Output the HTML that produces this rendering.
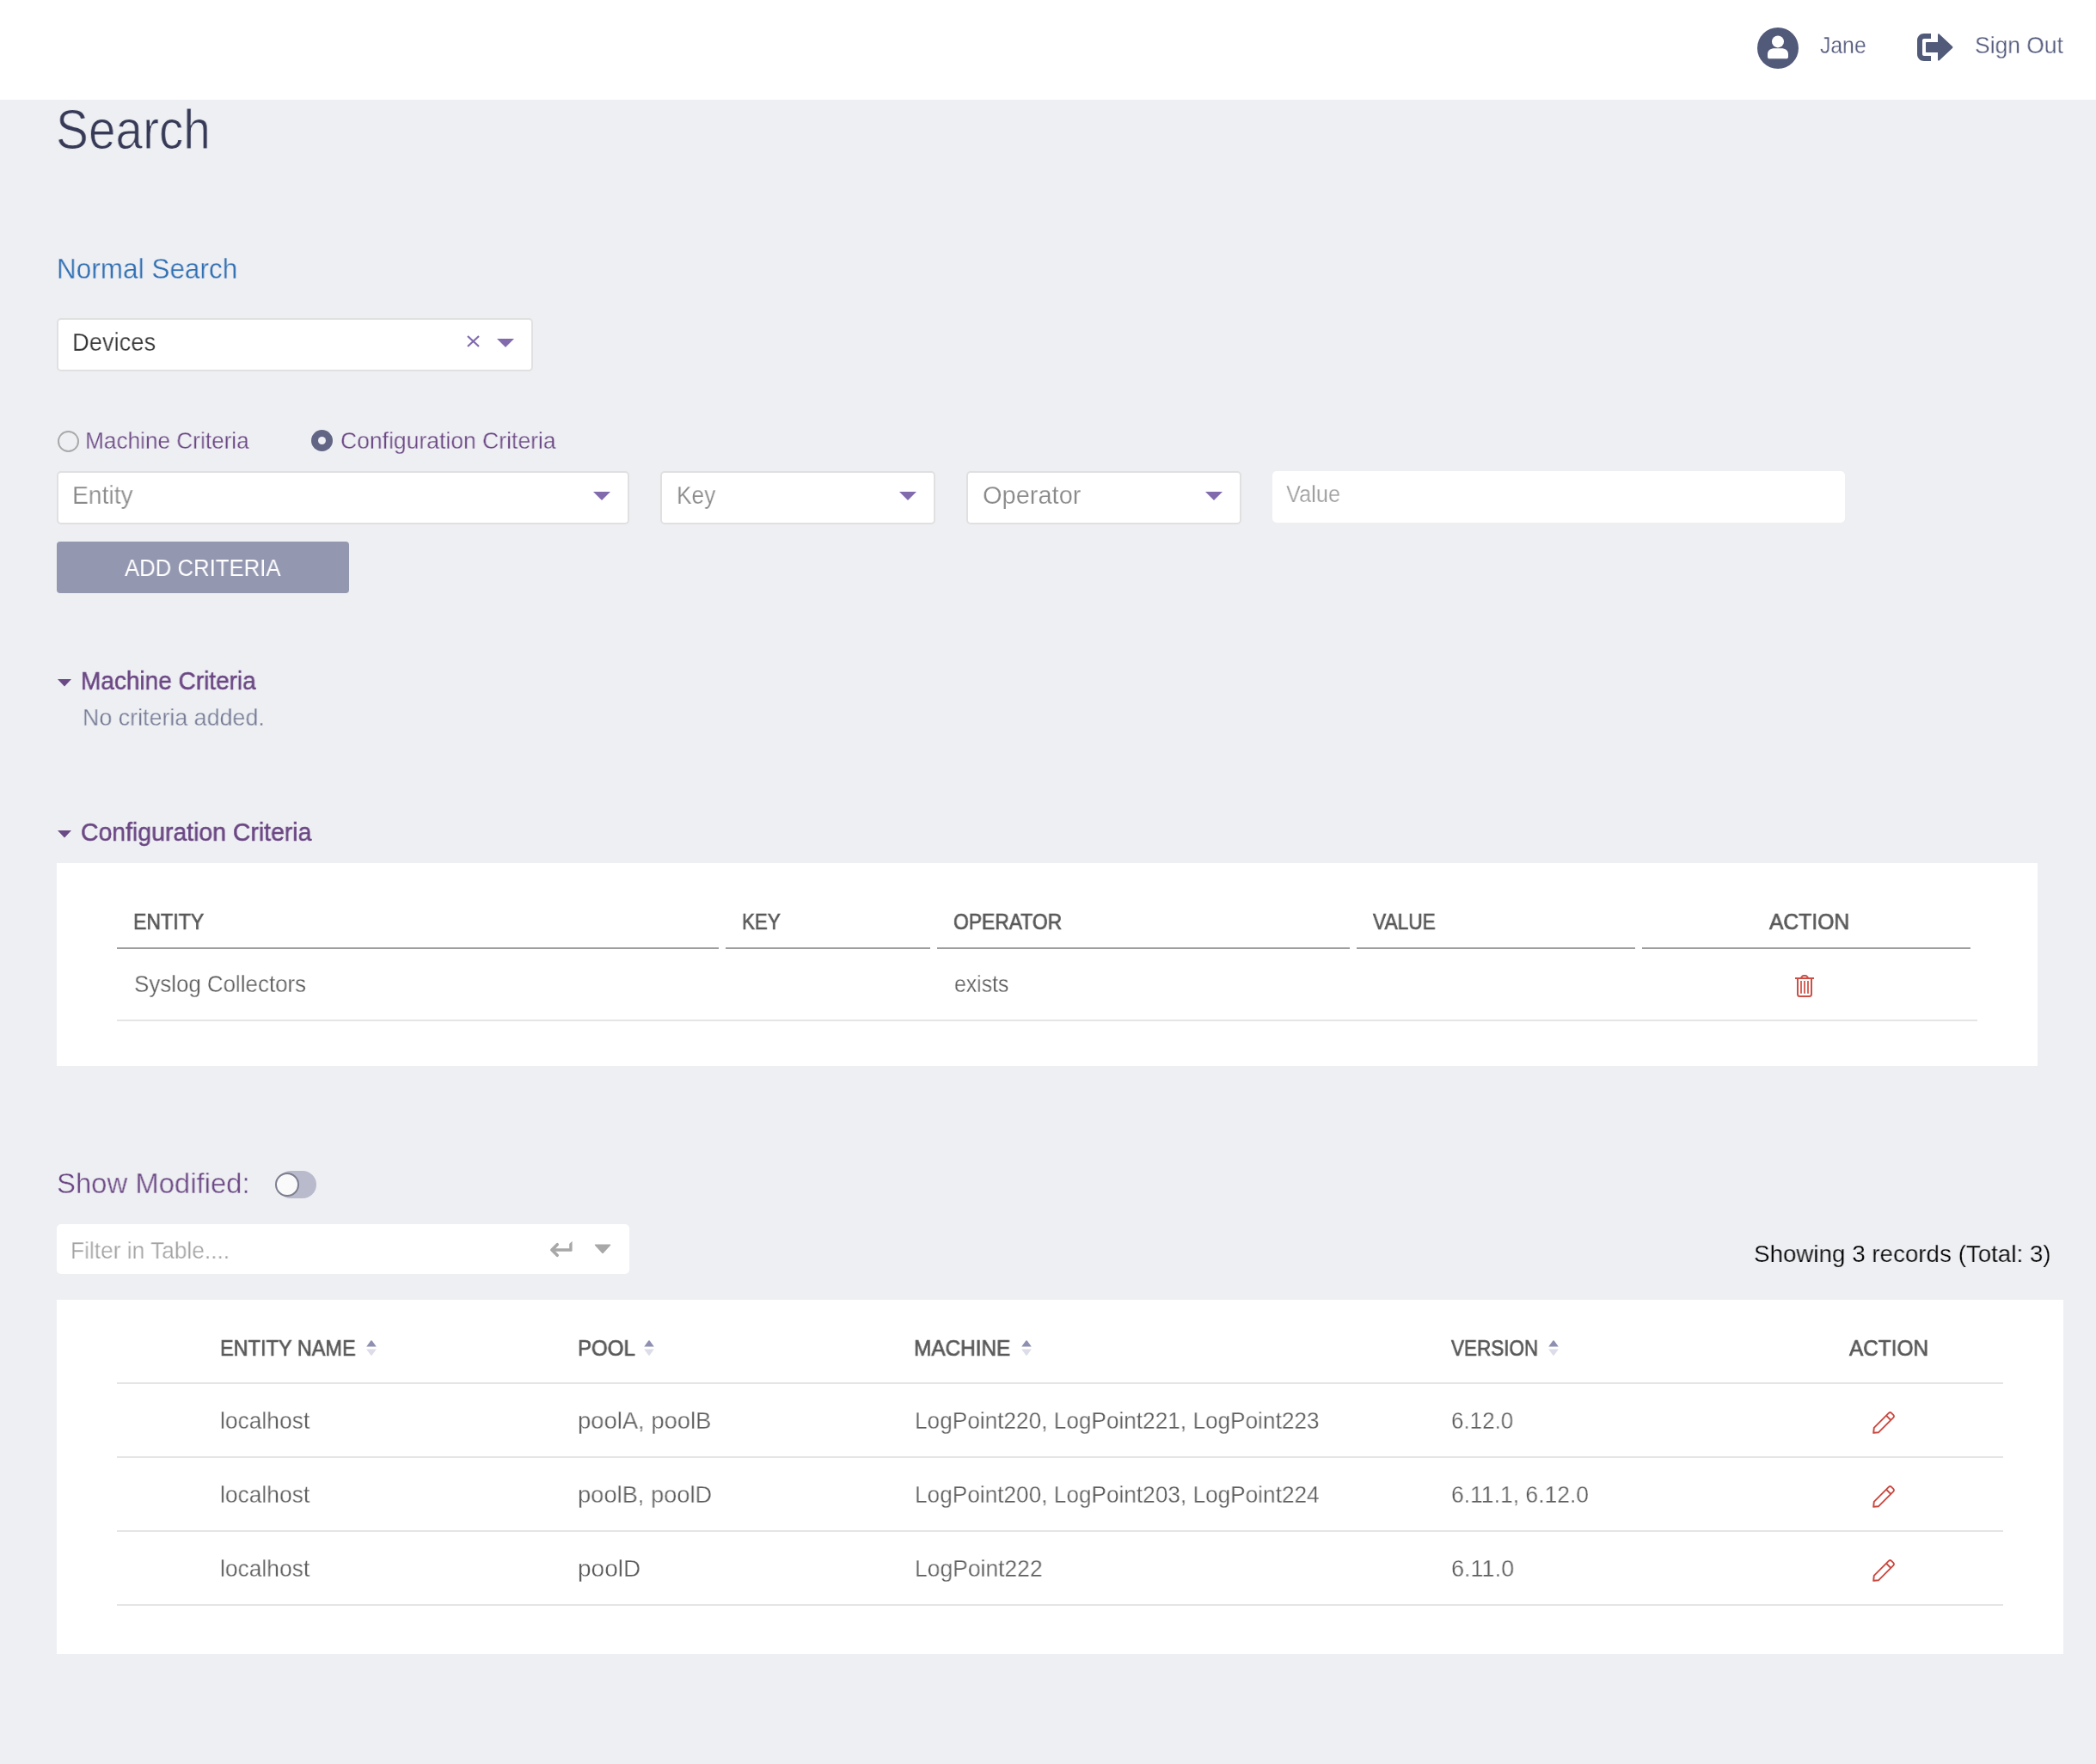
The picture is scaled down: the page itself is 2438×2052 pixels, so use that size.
<!DOCTYPE html>
<html><head><meta charset="utf-8"><title>Search</title>
<style>

html,body{margin:0;padding:0;}
body{width:2438px;height:2052px;background:#eeeff3;position:relative;overflow:hidden;font-family:"Liberation Sans",sans-serif;}
.a{position:absolute;}
.t{position:absolute;white-space:nowrap;line-height:1;transform-origin:0 0;will-change:transform;}
.hdr{left:0;top:0;width:2438px;height:116px;background:#fff;}
.box{position:absolute;background:#fff;box-sizing:border-box;border:2px solid #e0e0e0;border-radius:5px;}
.tri{position:absolute;width:0;height:0;border-left:10px solid transparent;border-right:10px solid transparent;border-top:10px solid #816bad;}
.panel{position:absolute;background:#fff;}
.hl{position:absolute;height:2px;background:#9e9e9e;}
.rl{position:absolute;height:2px;background:#e5e5e5;}
.th{font-size:26px;color:#585858;}
.td{font-size:28px;color:#5c5c5c;}
</style></head>
<body>

<div class="a hdr"></div>
<!-- header right -->
<svg class="a" style="left:2044px;top:32px" width="48" height="48" viewBox="0 0 48 48">
  <circle cx="24" cy="24" r="24" fill="#525a7a"/>
  <circle cx="24" cy="16.4" r="7" fill="#fff"/>
  <path d="M12 34 L12 31 C12 26.8 15.2 24.2 20.2 24.2 L27.8 24.2 C32.8 24.2 36 26.8 36 31 L36 34 C36 35.4 35.1 36.3 33.8 36.3 L14.2 36.3 C12.9 36.3 12 35.4 12 34 Z" fill="#fff"/>
</svg>
<svg class="a" style="left:2230px;top:39px" width="42" height="32" viewBox="0 0 42 32">
  <path d="M16 0 L8 0 C3.5 0 0 3.5 0 8 L0 24 C0 28.5 3.5 32 8 32 L16 32 L16 26 L8 26 C6.9 26 6 25.1 6 24 L6 8 C6 6.9 6.9 6 8 6 L16 6 Z" fill="#525a7a"/>
  <path d="M11 10 L24 10 L24 1.5 C24 0.5 25 0 25.8 0.7 L41 15 C41.6 15.6 41.6 16.4 41 17 L25.8 31.3 C25 32 24 31.5 24 30.5 L24 22 L11 22 C10.4 22 10 21.6 10 21 L10 11 C10 10.4 10.4 10 11 10 Z" fill="#525a7a"/>
</svg>

<!-- title -->

<!-- devices select -->
<div class="box" style="left:66px;top:370px;width:554px;height:62px;"></div>
<div class="tri" style="left:578px;top:394px;"></div>
<svg class="a" style="left:543px;top:390px" width="15" height="14" viewBox="0 0 15 14"><path d="M1 1 L14 13 M14 1 L1 13" stroke="#7f69ae" stroke-width="2.2"/></svg>

<!-- radios -->
<div class="a" style="left:67px;top:501px;width:25px;height:25px;box-sizing:border-box;border:2px solid #a9a9a9;border-radius:50%;"></div>
<div class="a" style="left:362px;top:500px;width:25px;height:25px;border-radius:50%;background:#626684;"></div>
<div class="a" style="left:370px;top:508px;width:9px;height:9px;border-radius:50%;background:#eeeff3;"></div>

<!-- criteria inputs -->
<div class="box" style="left:66px;top:548px;width:666px;height:62px;"></div>
<div class="tri" style="left:690px;top:572px;"></div>
<div class="box" style="left:768px;top:548px;width:320px;height:62px;"></div>
<div class="tri" style="left:1046px;top:572px;"></div>
<div class="box" style="left:1124px;top:548px;width:320px;height:62px;"></div>
<div class="tri" style="left:1402px;top:572px;"></div>
<div class="box" style="left:1480px;top:548px;width:666px;height:60px;border-color:#fff;"></div>

<div class="a" style="left:66px;top:630px;width:340px;height:60px;background:#9397b0;border-radius:4px;"></div>

<!-- machine criteria section -->
<svg class="a" style="left:67px;top:790px" width="16" height="9" viewBox="0 0 16 9"><path d="M0 0 L16 0 L8 8.5 Z" fill="#6a4a85"/></svg>

<!-- configuration criteria section -->
<svg class="a" style="left:67px;top:966px" width="16" height="9" viewBox="0 0 16 9"><path d="M0 0 L16 0 L8 8.5 Z" fill="#6a4a85"/></svg>

<div class="panel" style="left:66px;top:1004px;width:2304px;height:236px;"></div>
<div class="hl" style="left:136px;top:1102px;width:700px;"></div>
<div class="hl" style="left:844px;top:1102px;width:238px;"></div>
<div class="hl" style="left:1090px;top:1102px;width:480px;"></div>
<div class="hl" style="left:1578px;top:1102px;width:324px;"></div>
<div class="hl" style="left:1910px;top:1102px;width:382px;"></div>
<svg class="a" style="left:2087px;top:1133px" width="24" height="28" viewBox="0 0 24 28">
  <g fill="none" stroke="#cc4f46" stroke-width="2">
    <path d="M1 5 L23 5"/>
    <path d="M7.5 5 L9 3 C9.4 2.3 10 2 10.8 2 L13.2 2 C14 2 14.6 2.3 15 3 L16.5 5"/>
    <path d="M4 5 L4 23.5 C4 25 5 26 6.5 26 L17.5 26 C19 26 20 25 20 23.5 L20 5"/>
    <path d="M8 8 L8 22.8 M12 8 L12 22.8 M16 8 L16 22.8" stroke="#d4675e"/>
  </g>
</svg>
<div class="rl" style="left:136px;top:1186px;width:2164px;"></div>

<!-- show modified -->
<div class="a" style="left:322px;top:1362px;width:46px;height:32px;border-radius:16px;background:#b9bacc;"></div>
<div class="a" style="left:320px;top:1364px;width:28px;height:28px;box-sizing:border-box;border-radius:50%;background:#fafafa;border:2px solid #7c7f8f;"></div>

<!-- filter -->
<div class="a" style="left:66px;top:1424px;width:666px;height:58px;background:#fff;border-radius:5px;"></div>
<svg class="a" style="left:638px;top:1442px" width="30" height="22" viewBox="0 0 30 22">
  <path d="M24.2 5 L27.6 1.8 L27.6 12.8 Q27.6 13.8 26.6 13.8 L6 13.8 L6 10.2 L24.2 10.2 Z" fill="#a8a8a8"/>
  <path d="M10.2 5.7 L3.9 12 L10.2 18.3" fill="none" stroke="#a8a8a8" stroke-width="3.6" stroke-linecap="round" stroke-linejoin="round"/>
</svg>

<svg class="a" style="left:690px;top:1446px" width="22" height="13" viewBox="0 0 22 13"><path d="M2.5 1.5 L19.5 1.5 Q21 1.5 20 2.7 L12 11.5 Q11 12.5 10 11.5 L2 2.7 Q1 1.5 2.5 1.5 Z" fill="#a8a8a8"/></svg>
<!-- devices table -->
<div class="panel" style="left:66px;top:1512px;width:2334px;height:412px;"></div>
<svg class="a" style="left:424.5px;top:1558px" width="14" height="20" viewBox="0 0 14 20"><path d="M1.2 8.4 L6.3 1.6 Q7 0.8 7.7 1.6 L12.8 8.4 Z" fill="#8d90b0"/><path d="M1.2 11.4 L12.8 11.4 L7.7 18.4 Q7 19.2 6.3 18.4 Z" fill="#dcdde8"/></svg>
<svg class="a" style="left:747.5px;top:1558px" width="14" height="20" viewBox="0 0 14 20"><path d="M1.2 8.4 L6.3 1.6 Q7 0.8 7.7 1.6 L12.8 8.4 Z" fill="#8d90b0"/><path d="M1.2 11.4 L12.8 11.4 L7.7 18.4 Q7 19.2 6.3 18.4 Z" fill="#dcdde8"/></svg>
<svg class="a" style="left:1186.5px;top:1558px" width="14" height="20" viewBox="0 0 14 20"><path d="M1.2 8.4 L6.3 1.6 Q7 0.8 7.7 1.6 L12.8 8.4 Z" fill="#8d90b0"/><path d="M1.2 11.4 L12.8 11.4 L7.7 18.4 Q7 19.2 6.3 18.4 Z" fill="#dcdde8"/></svg>
<svg class="a" style="left:1799.5px;top:1558px" width="14" height="20" viewBox="0 0 14 20"><path d="M1.2 8.4 L6.3 1.6 Q7 0.8 7.7 1.6 L12.8 8.4 Z" fill="#8d90b0"/><path d="M1.2 11.4 L12.8 11.4 L7.7 18.4 Q7 19.2 6.3 18.4 Z" fill="#dcdde8"/></svg>
<div class="rl" style="left:136px;top:1608px;width:2194px;"></div>
<svg class="a" style="left:2177px;top:1641px" width="28" height="28" viewBox="0 0 28 28"><g fill="none" stroke="#c94840" stroke-width="1.9" stroke-linejoin="round"><path d="M2.2 25.8 L2.8 19.8 L19.8 2.8 C20.8 1.8 22.2 1.8 23.2 2.8 L25.2 4.8 C26.2 5.8 26.2 7.2 25.2 8.2 L8.2 25.2 Z"/><path d="M17 5.6 L22.4 11"/></g></svg>
<div class="rl" style="left:136px;top:1694px;width:2194px;"></div>
<svg class="a" style="left:2177px;top:1727px" width="28" height="28" viewBox="0 0 28 28"><g fill="none" stroke="#c94840" stroke-width="1.9" stroke-linejoin="round"><path d="M2.2 25.8 L2.8 19.8 L19.8 2.8 C20.8 1.8 22.2 1.8 23.2 2.8 L25.2 4.8 C26.2 5.8 26.2 7.2 25.2 8.2 L8.2 25.2 Z"/><path d="M17 5.6 L22.4 11"/></g></svg>
<div class="rl" style="left:136px;top:1780px;width:2194px;"></div>
<svg class="a" style="left:2177px;top:1813px" width="28" height="28" viewBox="0 0 28 28"><g fill="none" stroke="#c94840" stroke-width="1.9" stroke-linejoin="round"><path d="M2.2 25.8 L2.8 19.8 L19.8 2.8 C20.8 1.8 22.2 1.8 23.2 2.8 L25.2 4.8 C26.2 5.8 26.2 7.2 25.2 8.2 L8.2 25.2 Z"/><path d="M17 5.6 L22.4 11"/></g></svg>
<div class="rl" style="left:136px;top:1866px;width:2194px;"></div>

<div class="t" id="t0" style="left:2117.00px;top:39.30px;font-size:28px;color:#50577a;-webkit-text-stroke:0.3px #ffffff;transform:scaleX(0.8833)">Jane</div>
<div class="t" id="t1" style="left:2297.06px;top:39.30px;font-size:28px;color:#50577a;-webkit-text-stroke:0.3px #ffffff;transform:scaleX(0.9444)">Sign Out</div>
<div class="t" id="t2" style="left:65.45px;top:118.70px;font-size:64px;color:#363a56;-webkit-text-stroke:1.0px #eeeff3;transform:scaleX(0.8866)">Search</div>
<div class="t" id="t3" style="left:66.02px;top:295.00px;font-size:34px;color:#306fb3;-webkit-text-stroke:0.3px #eeeff3;transform:scaleX(0.9275)">Normal Search</div>
<div class="t" id="t4" style="left:84.42px;top:383.60px;font-size:29px;color:#333333;-webkit-text-stroke:0.25px #ffffff;transform:scaleX(0.9420)">Devices</div>
<div class="t" id="t5" style="left:99.13px;top:499.00px;font-size:28px;color:#6a4683;-webkit-text-stroke:0.3px #eeeff3;transform:scaleX(0.9356)">Machine Criteria</div>
<div class="t" id="t6" style="left:396.05px;top:499.00px;font-size:28px;color:#6a4683;-webkit-text-stroke:0.3px #eeeff3;transform:scaleX(0.9470)">Configuration Criteria</div>
<div class="t" id="t7" style="left:83.85px;top:561.60px;font-size:29px;color:#8a8a8a;-webkit-text-stroke:0.25px #ffffff;transform:scaleX(0.9743)">Entity</div>
<div class="t" id="t8" style="left:786.79px;top:561.60px;font-size:29px;color:#8a8a8a;-webkit-text-stroke:0.25px #ffffff;transform:scaleX(0.9062)">Key</div>
<div class="t" id="t9" style="left:1142.80px;top:561.60px;font-size:29px;color:#8a8a8a;-webkit-text-stroke:0.25px #ffffff;transform:scaleX(0.9991)">Operator</div>
<div class="t" id="t10" style="left:1496.00px;top:562.00px;font-size:27px;color:#9c9c9c;-webkit-text-stroke:0.25px #ffffff;transform:scaleX(0.9409)">Value</div>
<div class="t" id="t11" style="left:145.00px;top:648.00px;font-size:27px;color:#ffffff;transform:scaleX(0.9529)">ADD CRITERIA</div>
<div class="t" id="t12" style="left:93.73px;top:776.50px;font-size:30px;color:#6a4683;-webkit-text-stroke:0.5px #6a4683;transform:scaleX(0.9327)">Machine Criteria</div>
<div class="t" id="t13" style="left:95.78px;top:821.00px;font-size:28px;color:#747a94;-webkit-text-stroke:0.3px #eeeff3;transform:scaleX(0.9581)">No criteria added.</div>
<div class="t" id="t14" style="left:93.95px;top:952.60px;font-size:30px;color:#6a4683;-webkit-text-stroke:0.5px #6a4683;transform:scaleX(0.9470)">Configuration Criteria</div>
<div class="t" id="t15" style="left:155.42px;top:1058.50px;font-size:26px;color:#5a5a5a;-webkit-text-stroke:0.7px #5a5a5a;transform:scaleX(0.8900)">ENTITY</div>
<div class="t" id="t16" style="left:863.28px;top:1058.50px;font-size:26px;color:#5a5a5a;-webkit-text-stroke:0.7px #5a5a5a;transform:scaleX(0.8600)">KEY</div>
<div class="t" id="t17" style="left:1109.12px;top:1058.50px;font-size:26px;color:#5a5a5a;-webkit-text-stroke:0.7px #5a5a5a;transform:scaleX(0.8789)">OPERATOR</div>
<div class="t" id="t18" style="left:1596.60px;top:1058.50px;font-size:26px;color:#5a5a5a;-webkit-text-stroke:0.7px #5a5a5a;transform:scaleX(0.8723)">VALUE</div>
<div class="t" id="t19" style="left:2058.00px;top:1058.50px;font-size:26px;color:#5a5a5a;-webkit-text-stroke:0.7px #5a5a5a;transform:scaleX(0.9485)">ACTION</div>
<div class="t" id="t20" style="left:156.28px;top:1131.00px;font-size:28px;color:#5c5c5c;-webkit-text-stroke:0.3px #ffffff;transform:scaleX(0.9248)">Syslog Collectors</div>
<div class="t" id="t21" style="left:1110.11px;top:1131.00px;font-size:28px;color:#5c5c5c;-webkit-text-stroke:0.3px #ffffff;transform:scaleX(0.8857)">exists</div>
<div class="t" id="t22" style="left:66.01px;top:1360.00px;font-size:33px;color:#6a4683;-webkit-text-stroke:0.4px #eeeff3;transform:scaleX(0.9955)">Show Modified:</div>
<div class="t" id="t23" style="left:82.05px;top:1441.80px;font-size:27px;color:#a3a3a3;-webkit-text-stroke:0.25px #ffffff;transform:scaleX(0.9742)">Filter in Table....</div>
<div class="t" id="t24" style="left:2040.01px;top:1445.30px;font-size:28px;color:#000000;-webkit-text-stroke:0.25px #eeeff3;transform:scaleX(0.9913)">Showing 3 records (Total: 3)</div>
<div class="t" id="t25" style="left:255.79px;top:1554.50px;font-size:26px;color:#5a5a5a;-webkit-text-stroke:0.7px #5a5a5a;transform:scaleX(0.9047)">ENTITY NAME</div>
<div class="t" id="t26" style="left:671.55px;top:1554.50px;font-size:26px;color:#5a5a5a;-webkit-text-stroke:0.7px #5a5a5a;transform:scaleX(0.9257)">POOL</div>
<div class="t" id="t27" style="left:1062.93px;top:1554.50px;font-size:26px;color:#5a5a5a;-webkit-text-stroke:0.7px #5a5a5a;transform:scaleX(0.9368)">MACHINE</div>
<div class="t" id="t28" style="left:1687.70px;top:1554.50px;font-size:26px;color:#5a5a5a;-webkit-text-stroke:0.7px #5a5a5a;transform:scaleX(0.8647)">VERSION</div>
<div class="t" id="t29" style="left:2151.30px;top:1554.50px;font-size:26px;color:#5a5a5a;-webkit-text-stroke:0.7px #5a5a5a;transform:scaleX(0.9371)">ACTION</div>
<div class="t" id="t30" style="left:255.61px;top:1639.00px;font-size:28px;color:#5c5c5c;-webkit-text-stroke:0.3px #ffffff;transform:scaleX(0.9426)">localhost</div>
<div class="t" id="t31" style="left:671.54px;top:1639.00px;font-size:28px;color:#5c5c5c;-webkit-text-stroke:0.3px #ffffff;transform:scaleX(0.9787)">poolA, poolB</div>
<div class="t" id="t32" style="left:1064.13px;top:1639.00px;font-size:28px;color:#5c5c5c;-webkit-text-stroke:0.3px #ffffff;transform:scaleX(0.9356)">LogPoint220, LogPoint221, LogPoint223</div>
<div class="t" id="t33" style="left:1688.07px;top:1639.00px;font-size:28px;color:#5c5c5c;-webkit-text-stroke:0.3px #ffffff;transform:scaleX(0.9276)">6.12.0</div>
<div class="t" id="t34" style="left:255.61px;top:1725.00px;font-size:28px;color:#5c5c5c;-webkit-text-stroke:0.3px #ffffff;transform:scaleX(0.9426)">localhost</div>
<div class="t" id="t35" style="left:671.55px;top:1725.00px;font-size:28px;color:#5c5c5c;-webkit-text-stroke:0.3px #ffffff;transform:scaleX(0.9745)">poolB, poolD</div>
<div class="t" id="t36" style="left:1064.13px;top:1725.00px;font-size:28px;color:#5c5c5c;-webkit-text-stroke:0.3px #ffffff;transform:scaleX(0.9358)">LogPoint200, LogPoint203, LogPoint224</div>
<div class="t" id="t37" style="left:1687.55px;top:1725.00px;font-size:28px;color:#5c5c5c;-webkit-text-stroke:0.3px #ffffff;transform:scaleX(0.9461)">6.11.1, 6.12.0</div>
<div class="t" id="t38" style="left:255.61px;top:1811.00px;font-size:28px;color:#5c5c5c;-webkit-text-stroke:0.3px #ffffff;transform:scaleX(0.9426)">localhost</div>
<div class="t" id="t39" style="left:671.50px;top:1811.00px;font-size:28px;color:#5c5c5c;-webkit-text-stroke:0.3px #ffffff;transform:scaleX(1.0000)">poolD</div>
<div class="t" id="t40" style="left:1064.11px;top:1811.00px;font-size:28px;color:#5c5c5c;-webkit-text-stroke:0.3px #ffffff;transform:scaleX(0.9448)">LogPoint222</div>
<div class="t" id="t41" style="left:1687.54px;top:1811.00px;font-size:28px;color:#5c5c5c;-webkit-text-stroke:0.3px #ffffff;transform:scaleX(0.9649)">6.11.0</div>
</body></html>
